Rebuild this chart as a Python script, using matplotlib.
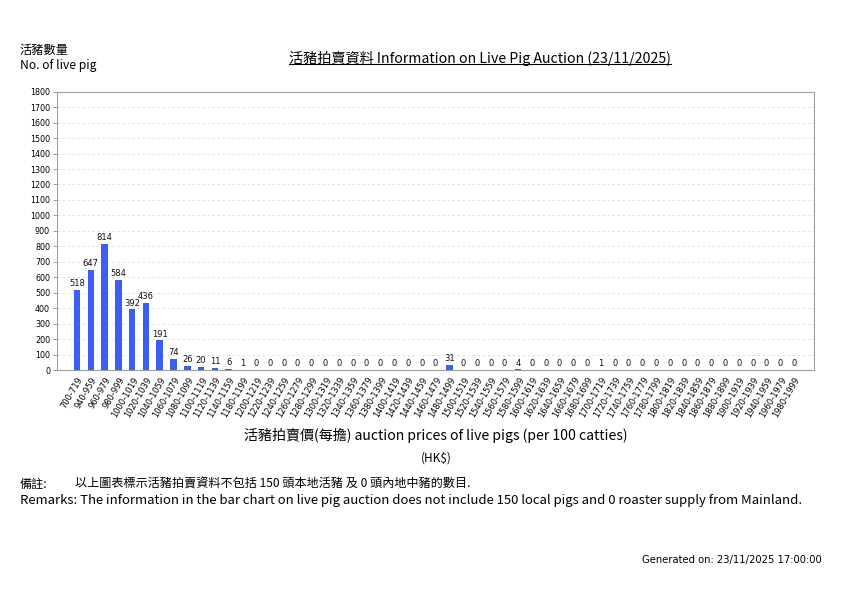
import matplotlib
matplotlib.use("Agg")
import matplotlib.pyplot as plt
from matplotlib.lines import Line2D
import numpy as np

plt.rcParams['font.family'] = ['Noto Sans CJK TC', 'DejaVu Sans']

categories = ["700-719", "940-959", "960-979", "980-999", "1000-1019", "1020-1039",
              "1040-1059", "1060-1079", "1080-1099", "1100-1119", "1120-1139", "1140-1159",
              "1180-1199", "1200-1219", "1220-1239", "1240-1259", "1260-1279", "1280-1299",
              "1300-1319", "1320-1339", "1340-1359", "1360-1379", "1380-1399", "1400-1419",
              "1420-1439", "1440-1459", "1460-1479", "1480-1499", "1500-1519", "1520-1539",
              "1540-1559", "1560-1579", "1580-1599", "1600-1619", "1620-1639", "1640-1659",
              "1660-1679", "1680-1699", "1700-1719", "1720-1739", "1740-1759", "1760-1779",
              "1780-1799", "1800-1819", "1820-1839", "1840-1859", "1860-1879", "1880-1899",
              "1900-1919", "1920-1939", "1940-1959", "1960-1979", "1980-1999"]
values = [518, 647, 814, 584, 392, 436, 191, 74, 26, 20, 11, 6,
          1, 0, 0, 0, 0, 0, 0, 0, 0, 0, 0, 0,
          0, 0, 0, 31, 0, 0, 0, 0, 4, 0, 0, 0,
          0, 0, 1, 0, 0, 0, 0, 0, 0, 0, 0, 0,
          0, 0, 0, 0, 0]
yticks = list(range(0, 1900, 100))

W, H = 842, 595
fig = plt.figure(figsize=(W / 100, H / 100), dpi=100)
ax = fig.add_axes([57 / W, 1 - 370 / H, (814 - 57) / W, (370 - 91.7) / H])

x = np.arange(len(categories))
ax.bar(x, values, width=0.47, color='#3d5ef2', zorder=3)
for xi, v in zip(x, values):
    ax.text(xi, v + 12, str(v), ha='center', va='bottom', fontsize=6,
            family='DejaVu Sans', color='#111111', zorder=4)

ax.set_xlim(-1.45, len(categories) - 1 + 1.45)
ax.set_ylim(0, 1800)
ax.set_yticks(yticks)
ax.set_yticklabels([str(t) for t in yticks], fontsize=5.8, family='DejaVu Sans')
ax.set_xticks(x)
ax.set_xticklabels(categories, rotation=60, ha='right', rotation_mode='anchor',
                   fontsize=6, family='DejaVu Sans')
ax.tick_params(axis='y', length=3, width=0.6, color='#888888', pad=2)
ax.tick_params(axis='x', length=0, pad=4)
ax.yaxis.grid(True, linestyle=(0, (3, 3)), color='#dddddd', linewidth=0.6, zorder=0)
for s in ax.spines.values():
    s.set_color('#a0a0a0')
    s.set_linewidth(0.8)

def ftext(px, py, s, **kw):
    return fig.text(px / W, 1 - py / H, s, **kw)

ftext(20, 50, "活豬數量", fontsize=8.8, va='center', ha='left')
ftext(20, 66, "No. of live pig", fontsize=8.7, va='center', ha='left')
title = ftext(480, 58, "活豬拍賣資料 Information on Live Pig Auction (23/11/2025)",
              fontsize=10.2, va='center', ha='center')
ftext(436, 435, "活豬拍賣價(每擔) auction prices of live pigs (per 100 catties)",
      fontsize=10.1, va='center', ha='center')
ftext(436, 458, "(HK$)", fontsize=8.5, va='center', ha='center')
ftext(20, 488, "備註:", fontsize=8.7, va='baseline', ha='left')
ftext(75, 488, "以上圖表標示活豬拍賣資料不包括 150 頭本地活豬 及 0 頭內地中豬的數目.",
      fontsize=8.7, va='baseline', ha='left')
ftext(20, 504, "Remarks: The information in the bar chart on live pig auction does not include 150 local pigs and 0 roaster supply from Mainland.",
      fontsize=9.45, va='baseline', ha='left')
ftext(822, 560, "Generated on: 23/11/2025 17:00:00", fontsize=7.2, va='center', ha='right',
      family='DejaVu Sans')

fig.canvas.draw()
bb = title.get_window_extent(fig.canvas.get_renderer())
uy = (bb.y0 + 1.5) / H
fig.add_artist(Line2D([bb.x0 / W, bb.x1 / W], [uy, uy], transform=fig.transFigure,
                      color='black', linewidth=0.8))

fig.savefig("out.png", dpi=100)
